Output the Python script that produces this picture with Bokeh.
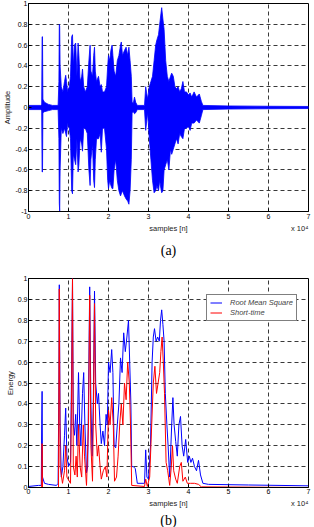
from bokeh.plotting import figure
from bokeh.layouts import column
from bokeh.models import FixedTicker, LinearAxis, Legend, LegendItem, Range1d, Title
from bokeh.embed import file_html
from bokeh.resources import INLINE

# ---------------- data (a): speech waveform envelope ----------------
wave_n = [0, 3000, 3300, 3400, 3500, 3600, 4000, 5000, 6000, 7400,
          7600, 7700, 7800, 7900, 8200, 8600, 9000, 9300, 9500, 9800,
          10200, 10500, 10800, 11000, 11200, 11500, 11800, 12100, 12400, 12600,
          12900, 13300, 13500, 13800, 14200, 14700, 15100, 15400, 15600, 16000,
          16300, 16500, 16700, 17000, 17500, 17900, 18200, 18500, 19000, 19500,
          19800, 20000, 20300, 20600, 20900, 21100, 21400, 21800, 22200, 22600,
          23000, 23200, 23500, 24000, 24400, 24800, 25100, 25400, 25700, 25900,
          26200, 26500, 26800, 27200, 29000, 29300, 29500, 29800, 30200, 30600,
          31000, 31400, 31800, 32100, 32500, 32800, 33100, 33300, 33600, 33900,
          34300, 34700, 35100, 35500, 35800, 36200, 36600, 37000, 37400, 37800,
          38200, 38600, 39000, 39500, 40000, 40400, 40800, 41400, 42000, 42700,
          43200, 43600, 50000, 60000, 70000]
wave_upper = [.02, .02, .03, .68, .68, .08, .05, .03, .02, .02,
              .25, .80, .78, .40, .20, .15, .25, .31, .25, .15,
              .20, .30, .68, .70, .40, .60, .62, .30, .62, .50,
              .25, .30, .37, .20, .15, .20, .45, .60, .35, .30,
              .50, .58, .35, .25, .30, .20, .22, .15, .15, .20,
              .40, .50, .45, .55, .60, .50, .35, .30, .45, .50,
              .60, .63, .50, .55, .58, .50, .58, .45, .30, .05,
              .04, .10, .05, .02, .02, .20, .15, .08, .20, .25,
              .30, .45, .60, .65, .70, .80, .90, .96, .85, .75,
              .45, .30, .25, .30, .33, .30, .20, .18, .20, .15,
              .18, .25, .15, .15, .12, .14, .10, .15, .10, .13,
              .06, .02, .015, .012, .01]
wave_lower = [-.02, -.02, -.03, -.62, -.62, -.05, -.04, -.03, -.02, -.02,
              -.30, -.92, -1.0, -.60, -.20, -.25, -.20, -.25, -.28, -.15,
              -.20, -.30, -.80, -.83, -.45, -.50, -.55, -.30, -.62, -.55,
              -.30, -.35, -.42, -.20, -.20, -.25, -.60, -.75, -.50, -.35,
              -.70, -.77, -.50, -.30, -.30, -.25, -.43, -.20, -.20, -.40,
              -.70, -.78, -.70, -.75, -.78, -.78, -.60, -.50, -.70, -.80,
              -.85, -.83, -.80, -.85, -.88, -.90, -.93, -.80, -.50, -.05,
              -.04, -.06, -.05, -.02, -.02, -.22, -.15, -.05, -.30, -.50,
              -.70, -.82, -.80, -.75, -.80, -.70, -.78, -.82, -.80, -.60,
              -.55, -.50, -.60, -.40, -.45, -.40, -.35, -.30, -.35, -.25,
              -.28, -.30, -.20, -.20, -.18, -.22, -.15, -.15, -.12, -.15,
              -.08, -.02, -.015, -.012, -.01]

# ---------------- data (b): energy curves ----------------
rms_n = [0, 2500, 3200, 3300, 3400, 3500, 4000, 5000, 7000, 7400,
         7600, 7700, 7900, 8200, 8600, 9000, 9300, 9600, 10000, 10500,
         10800, 11000, 11200, 11500, 11800, 12100, 12500, 12800, 13100, 13500,
         13800, 14100, 14500, 14800, 15100, 15300, 15600, 15900, 16200, 16500,
         16800, 17200, 17500, 17900, 18200, 18600, 19000, 19400, 19700, 20000,
         20400, 20800, 21100, 21400, 21800, 22200, 22600, 23000, 23400, 23800,
         24200, 24600, 25000, 25300, 25600, 25800, 26200, 26700, 27200, 29000,
         29300, 29600, 30000, 30500, 30900, 31200, 31500, 31900, 32300, 32700,
         33000, 33300, 33600, 33900, 34200, 34600, 34900, 35300, 35800, 36100,
         36400, 36800, 37200, 37600, 38000, 38400, 38800, 39300, 39800, 40200,
         40600, 41000, 41500, 42000, 42500, 43000, 43600, 45000, 55000, 70000]
rms = [.005, .01, .01, .30, .46, .05, .02, .015, .01, .02,
       .50, .97, .30, .05, .10, .25, .38, .15, .10, .12,
       .60, 1.0, .30, .25, .35, .20, .55, .30, .20, .45,
       .55, .30, .07, .10, .60, .96, .40, .15, .40, .94,
       .50, .40, .45, .30, .21, .27, .20, .35, .30, .60,
       .55, .66, .55, .20, .19, .30, .40, .62, .55, .74,
       .65, .72, .80, .60, .40, .10, .10, .09, .02, .02,
       .18, .05, .04, .20, .60, .72, .76, .70, .72, .70,
       .80, .85, .78, .70, .45, .30, .20, .05, .30, .43,
       .30, .22, .15, .30, .34, .20, .15, .23, .12, .15,
       .12, .14, .10, .08, .13, .06, .02, .015, .012, .008]

ste_n = [0, 3300, 3400, 3500, 7500, 7600, 7700, 7900, 8500, 9000,
         9300, 9600, 10500, 10800, 11000, 11200, 11600, 11900, 12200, 12500,
         12900, 13300, 13700, 14000, 14500, 15000, 15300, 15600, 16000, 16300,
         16500, 16800, 17200, 17500, 17900, 18200, 18700, 19200, 19600, 20000,
         20400, 20800, 21200, 21500, 22000, 22400, 22800, 23200, 23600, 24000,
         24400, 24800, 25200, 25500, 25800, 29000, 29300, 29700, 30300, 30800,
         31200, 31600, 32000, 32400, 32800, 33100, 33400, 33700, 34000, 34400,
         34800, 35300, 35700, 36000, 36300, 36800, 37200, 37800, 38200, 38600,
         39200, 39700, 40500, 41500, 42500, 43200, 70000]
ste = [0, 0, .21, 0, 0, .50, .95, .10, .02, .08,
       .20, .05, .02, .50, 1.0, .10, .06, .15, .05, .30,
       .10, .05, .30, .15, .01, .30, .92, .20, .03, .50,
       .88, .30, .15, .20, .10, .04, .08, .10, .05, .37,
       .30, .43, .30, .03, .05, .15, .30, .40, .30, .50,
       .42, .60, .50, .30, .01, .005, .04, .005, .05, .30,
       .50, .58, .45, .50, .55, .65, .72, .60, .45, .12,
       .08, .01, .10, .20, .08, .04, .02, .10, .12, .03,
       .05, .02, .02, .02, .015, .003, 0]

# ---------------- ticks / labels ----------------
x_ticks = [0, 10000, 20000, 30000, 40000, 50000, 60000, 70000]
x_tick_labels = ["0", "1", "2", "3", "4", "5", "6", "7"]
x_title = "samples [n]"
x_scale_note = "x 10\u2074"
amp_ticks = [-1.0, -0.8, -0.6, -0.4, -0.2, 0.0, 0.2, 0.4, 0.6, 0.8, 1.0]
amp_tick_labels = ["-1", "-0.8", "-0.6", "-0.4", "-0.2", "0", "0.2", "0.4", "0.6", "0.8", "1"]
en_ticks = [0.0, 0.1, 0.2, 0.3, 0.4, 0.5, 0.6, 0.7, 0.8, 0.9, 1.0]
en_tick_labels = ["0", "0.1", "0.2", "0.3", "0.4", "0.5", "0.6", "0.7", "0.8", "0.9", "1"]

BLUE = "#0000ff"
RED = "#ff0000"
SANS = "Liberation Sans"
SERIF = "Liberation Serif"


def style(p, yticks, ylabels, ylabel, caption, tick_standoff, note_standoff, cap_standoff):
    p.outline_line_color = "black"
    p.outline_line_width = 1
    p.background_fill_color = "white"
    p.border_fill_color = "white"
    p.xaxis.ticker = FixedTicker(ticks=x_ticks)
    p.xaxis.major_label_overrides = dict(zip(x_ticks, x_tick_labels))
    p.yaxis.ticker = FixedTicker(ticks=yticks)
    p.yaxis.major_label_overrides = dict(zip(yticks, ylabels))
    for ax in (p.xaxis[0], p.yaxis[0]):
        ax.major_tick_in = 3
        ax.major_tick_out = 0
        ax.minor_tick_line_color = None
        ax.axis_line_color = "black"
        ax.major_tick_line_color = "black"
        ax.major_label_text_font = SANS
        ax.major_label_text_font_size = "7px"
        ax.major_label_text_color = "black"
        ax.axis_label_text_font = SANS
        ax.axis_label_text_font_size = "7.5px"
        ax.axis_label_text_font_style = "normal"
        ax.axis_label_text_color = "#222222"
    p.xaxis.major_label_standoff = tick_standoff
    p.yaxis.axis_label = ylabel
    p.yaxis.axis_label_standoff = 0
    p.yaxis.major_label_standoff = 1
    # second row under the tick labels: axis title centred + scale note at the right
    note_ticks = [35000, 67800]
    note_axis = LinearAxis(ticker=FixedTicker(ticks=note_ticks),
                           major_label_overrides=dict(zip(note_ticks, [x_title, x_scale_note])),
                           axis_line_color=None, major_tick_line_color=None,
                           minor_tick_line_color=None, major_tick_in=0, major_tick_out=0,
                           major_label_standoff=note_standoff, major_label_text_font=SANS,
                           major_label_text_font_size="7.5px", major_label_text_color="#222222")
    p.add_layout(note_axis, "below")
    p.xgrid.ticker = FixedTicker(ticks=x_ticks)
    p.ygrid.ticker = FixedTicker(ticks=yticks)
    for g in (p.xgrid[0], p.ygrid[0]):
        g.grid_line_color = "#222222"
        g.grid_line_dash = "4 3"
        g.grid_line_width = 0.9
    p.add_layout(Title(text=caption, align="center", text_font=SERIF, text_font_size="14px",
                       text_font_style="normal", text_color="black", standoff=cap_standoff), "below")


# ---------------- (a) ----------------
pa = figure(width=314, height=264, output_backend="svg", toolbar_location=None,
            x_range=Range1d(0, 70000), y_range=Range1d(-1, 1),
            min_border_left=27, min_border_right=6, min_border_top=3, min_border_bottom=53)
style(pa, amp_ticks, amp_tick_labels, "Amplitude", "(a)", 2, 2, 11)
poly_x = wave_n + wave_n[::-1]
poly_y = wave_upper + wave_lower[::-1]
pa.patch(poly_x, poly_y, fill_color=BLUE, line_color=BLUE, line_width=0.8)

# ---------------- (b) ----------------
pb = figure(width=314, height=263, output_backend="svg", toolbar_location=None,
            x_range=Range1d(0, 70000), y_range=Range1d(0, 1),
            min_border_left=27, min_border_right=6, min_border_top=14, min_border_bottom=39)
style(pb, en_ticks, en_tick_labels, "Energy", "(b)", 1, 2, 0)
r_rms = pb.line(rms_n, rms, line_color=BLUE, line_width=1)
r_ste = pb.line(ste_n, ste, line_color=RED, line_width=1)
legend = Legend(items=[LegendItem(label="Root Mean Square", renderers=[r_rms]),
                       LegendItem(label="Short-time", renderers=[r_ste])],
                location=(178, 166))
legend.border_line_color = "black"
legend.border_line_width = 0.8
legend.background_fill_alpha = 1
legend.label_text_font = SANS
legend.label_text_font_size = "7.5px"
legend.label_text_font_style = "italic"
legend.glyph_width = 12
legend.glyph_height = 9
legend.label_height = 9
legend.label_standoff = 8
legend.padding = 3
legend.spacing = 1
legend.margin = 0
pb.add_layout(legend, "center")

layout = column(pa, pb, spacing=0)
open("out.html", "w").write(file_html(layout, INLINE))
